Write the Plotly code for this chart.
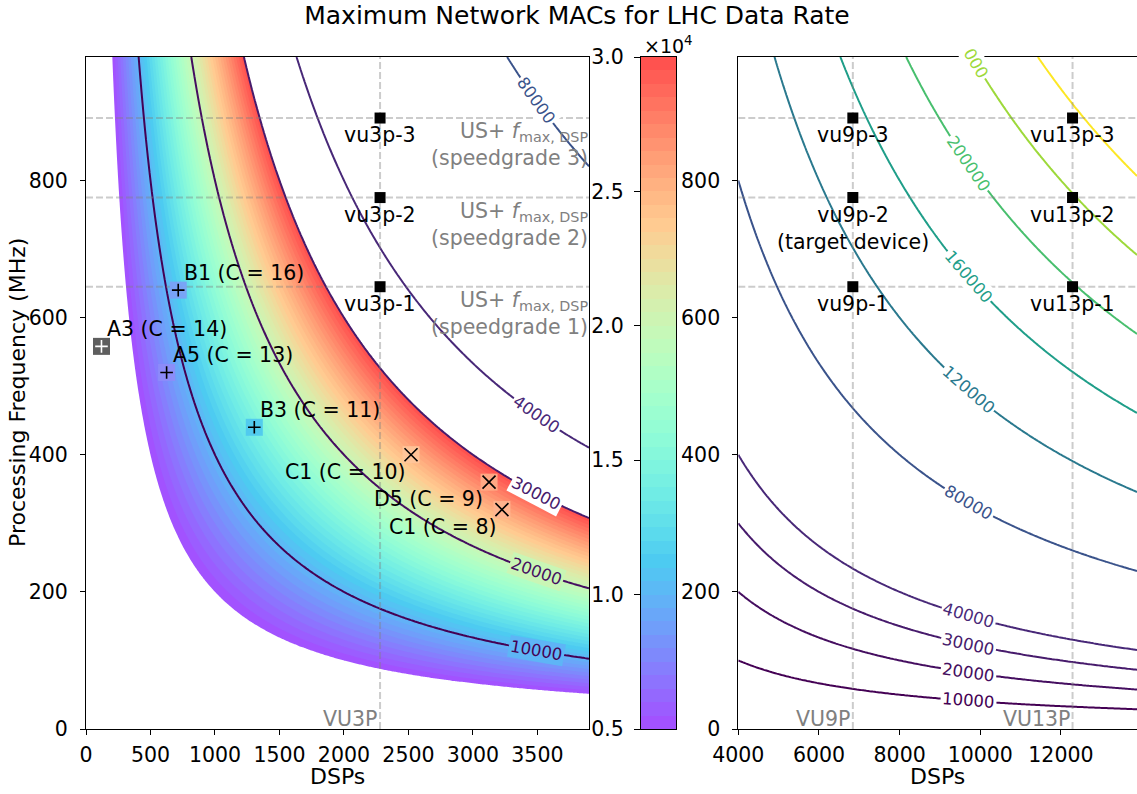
import math
import numpy as np
import plotly.graph_objects as go
from plotly.colors import sample_colorscale

# ---------------- data ----------------
LHC_RATE_MHZ = 40.0  # MACs = DSPs * f / 40 MHz

device_names = ["vu3p", "vu9p", "vu13p"]
device_dsps = [2280, 6840, 12288]
device_family = ["VU3P", "VU9P", "VU13P"]
speedgrades = [1, 2, 3]
speedgrade_fmax = [645, 775, 891]

design_labels = ["A3 (C = 14)", "B1 (C = 16)", "A5 (C = 13)", "B3 (C = 11)",
                 "C1 (C = 10)", "D5 (C = 9)", "C1 (C = 8)"]
design_dsps = [120, 715, 625, 1305, 2520, 3125, 3225]
design_freqs = [558, 640, 520, 440, 400, 360, 320]
design_marker = ["plus", "plus", "plus", "plus", "x", "x", "x"]
design_square_colors = ["#4d4d4d", "#7c9ef6", "#8e8cf8", "#4ec6ef",
                        "#ffc69b", "#ffae88", "#ffb590"]
design_symbol_colors = ["white", "black", "black", "black", "black", "black", "black"]

fill_start, fill_end, fill_step = 5000, 30000, 500
levels_low = [10000, 20000, 30000, 40000]
levels_high = [80000, 120000, 160000, 200000, 240000, 280000]
left_label_levels = [10000, 20000, 30000, 40000, 80000]
right_label_levels = [10000, 20000, 30000, 40000, 80000, 120000, 160000, 200000]

left_xlim = [0, 3900]
right_xlim = [4000, 13886]
ylim = [0, 980]
left_xticks = [0, 500, 1000, 1500, 2000, 2500, 3000, 3500]
right_xticks = [4000, 6000, 8000, 10000, 12000]
yticks = [0, 200, 400, 600, 800]
cbar_ticks = [0.5, 1.0, 1.5, 2.0, 2.5, 3.0]

# ---------------- layout geometry ----------------
W, H = 1137, 794
L_X0, L_X1 = 86, 589
CB_X0, CB_X1 = 641, 676
R_X0 = 738.3
Y_TOP, Y_BOT = 57, 729
FONT = "DejaVu Sans"
TICK_FS = 20.5
LAB_FS = 20.5
CLAB_FS = 16.5
GREY = "#808080"

ydom = [(H - Y_BOT) / H, (H - Y_TOP) / H]


def rainbow(t):
    r = min(1.0, abs(2 * t - 0.5))
    g = math.sin(math.pi * t)
    b = math.cos(math.pi * t / 2)
    return r, g, b


def rainbow_on_white(t, alpha=0.7):
    r, g, b = rainbow(t)
    c = [alpha * v + (1 - alpha) * 1.0 for v in (r, g, b)]
    return "rgb(%d,%d,%d)" % tuple(int(round(255 * v)) for v in c)


vmin_lines, vmax_lines = min(levels_low), max(levels_high)


def viridis(level):
    t = (level - vmin_lines) / (vmax_lines - vmin_lines)
    return sample_colorscale("Viridis", [t])[0]


# grids (MACs surface)
y_grid = np.arange(ylim[0], ylim[1] + 1, 4.0)
xl_grid = np.arange(left_xlim[0], left_xlim[1] + 1, 15.0)
xr_grid = np.linspace(right_xlim[0], right_xlim[1], 250)
zl = (np.outer(y_grid, xl_grid) / LHC_RATE_MHZ).astype(np.float32)
zr = (np.outer(y_grid, xr_grid) / LHC_RATE_MHZ).astype(np.float32)

fig = go.Figure()

# filled MAC region (5000 .. 30000); outside: blank
nc = int((fill_end - fill_start) / fill_step) + 1
nb = nc - 1
fill_cs = [[0.0, "rgba(255,255,255,0)"]]
for k in range(nb):
    fill_cs.append([(k + 1) / nc, rainbow_on_white((k + 0.5) / nb)])
fill_cs.append([1.0, "rgb(255,255,255)"])

fig.add_trace(go.Contour(
    x=xl_grid, y=y_grid, z=zl, xaxis="x", yaxis="y",
    contours=dict(start=fill_start, end=fill_end, size=fill_step,
                  coloring="fill", showlines=False),
    colorscale=fill_cs, showscale=False, line=dict(width=0),
    hoverinfo="skip"))


def line_contour(x, z, levels, xa, ya):
    cs = [[i / (len(levels) - 1), viridis(L)] for i, L in enumerate(levels)]
    return go.Contour(
        x=x, y=y_grid, z=z, xaxis=xa, yaxis=ya,
        contours=dict(start=levels[0], end=levels[-1],
                      size=levels[1] - levels[0], coloring="lines",
                      showlabels=False),
        colorscale=cs, showscale=False, line=dict(width=2, smoothing=0),
        hoverinfo="skip")


fig.add_trace(line_contour(xl_grid, zl, levels_low, "x", "y"))
fig.add_trace(line_contour(xl_grid, zl, levels_high, "x", "y"))
fig.add_trace(line_contour(xr_grid, zr, levels_low, "x2", "y2"))
fig.add_trace(line_contour(xr_grid, zr, levels_high, "x2", "y2"))

# dashed reference lines
dash_style = dict(color="rgba(128,128,128,0.4)", width=2, dash="7px,3px")
panels = [("x", "y", left_xlim, [device_dsps[0]]),
          ("x2", "y2", right_xlim, device_dsps[1:])]
for xa, ya, xlim, dsps in panels:
    for d in dsps:
        fig.add_trace(go.Scatter(x=[d, d], y=ylim, mode="lines", line=dash_style,
                                 xaxis=xa, yaxis=ya, hoverinfo="skip", showlegend=False))
    for f in speedgrade_fmax:
        fig.add_trace(go.Scatter(x=xlim, y=[f, f], mode="lines", line=dash_style,
                                 xaxis=xa, yaxis=ya, hoverinfo="skip", showlegend=False))

# design points: coloured squares + symbols
fig.add_trace(go.Scatter(
    x=design_dsps, y=design_freqs, mode="markers",
    marker=dict(symbol="square", size=17, color=design_square_colors,
                opacity=0.9, line=dict(width=0)),
    xaxis="x", yaxis="y", hoverinfo="skip", showlegend=False))
for sym, size in (("plus", 9), ("x", 13)):
    idx = [i for i, m in enumerate(design_marker) if m == sym]
    fig.add_trace(go.Scatter(
        x=[design_dsps[i] for i in idx], y=[design_freqs[i] for i in idx],
        mode="markers",
        marker=dict(symbol="cross-thin" if sym == "plus" else "x-thin", size=size,
                    line=dict(width=1.6, color=[design_symbol_colors[i] for i in idx])),
        xaxis="x", yaxis="y", hoverinfo="skip", showlegend=False))

# device markers
for j, (name, d) in enumerate(zip(device_names, device_dsps)):
    xa, ya = ("x", "y") if j == 0 else ("x2", "y2")
    fig.add_trace(go.Scatter(
        x=[d] * len(speedgrade_fmax), y=speedgrade_fmax, mode="markers",
        marker=dict(symbol="square", size=11, color="black"),
        xaxis=xa, yaxis=ya, hoverinfo="skip", showlegend=False))

# colour bar drawn as a heatmap
cb_centers = [(fill_start + (k + 0.5) * fill_step) / 1e4 for k in range(nb)]
cb_cs = [[i / 100, rainbow_on_white(i / 100)] for i in range(101)]
fig.add_trace(go.Heatmap(
    x=[0], y=cb_centers, z=[[v] for v in cb_centers],
    colorscale=cb_cs, zmin=cbar_ticks[0], zmax=cbar_ticks[-1], showscale=False,
    xaxis="x3", yaxis="y3", hoverinfo="skip"))

# ---------------- annotations ----------------
ann = []
lab_font = dict(family=FONT, size=LAB_FS, color="black")
for i, (lab, d, f) in enumerate(zip(design_labels, design_dsps, design_freqs)):
    if design_marker[i] == "plus":
        ann.append(dict(x=d, y=f, xref="x", yref="y", text=lab, showarrow=False,
                        xanchor="left", yanchor="bottom", xshift=4, yshift=3, font=lab_font))
    else:
        ann.append(dict(x=d, y=f, xref="x", yref="y", text=lab, showarrow=False,
                        xanchor="right", yanchor="top", xshift=-4, yshift=-3, font=lab_font))

for j, (name, d) in enumerate(zip(device_names, device_dsps)):
    xr, yr = ("x", "y") if j == 0 else ("x2", "y2")
    for sg, f in zip(speedgrades, speedgrade_fmax):
        txt = f"{name}-{sg}"
        if name == "vu9p" and sg == 2:
            txt += "<br>(target device)"
        ann.append(dict(x=d, y=f, xref=xr, yref=yr, text=txt, showarrow=False,
                        xanchor="center", yanchor="top", yshift=-3, font=lab_font))
    ann.append(dict(x=d, y=ylim[0], xref=xr, yref=yr, text=device_family[j],
                    showarrow=False, xanchor="right", yanchor="bottom",
                    xshift=-1, yshift=-4, font=dict(family=FONT, size=LAB_FS, color=GREY)))

for sg, f in zip(speedgrades, speedgrade_fmax):
    ann.append(dict(x=left_xlim[1], y=f, xref="x", yref="y",
                    text=f"US+ <i>f</i><sub>max, DSP</sub><br>(speedgrade {sg})",
                    showarrow=False, xanchor="right", yanchor="top", align="right",
                    xshift=1, yshift=1, font=dict(family=FONT, size=LAB_FS, color=GREY)))

# inline contour labels
ky = (Y_BOT - Y_TOP) / (ylim[1] - ylim[0])
kx_l = (L_X1 - L_X0) / (left_xlim[1] - left_xlim[0])
kx_r = (W - R_X0) / (right_xlim[1] - right_xlim[0])


def contour_label(level, xpos, kx, xr, yr, bg, text=None):
    f = LHC_RATE_MHZ * level / xpos
    ang = math.degrees(math.atan((f / xpos) * ky / kx))
    return dict(x=xpos, y=f, xref=xr, yref=yr, text=text or str(level), showarrow=False,
                textangle=ang, bgcolor=bg, borderpad=1,
                font=dict(family=FONT, size=CLAB_FS, color=viridis(level)))


left_label_bg = {10000: rainbow_on_white((10000 - fill_start) / (fill_end - fill_start)),
                 20000: rainbow_on_white((20000 - fill_start) / (fill_end - fill_start))}
for L in left_label_levels:
    ann.append(contour_label(L, 3490, kx_l, "x", "y", left_label_bg.get(L, "white")))
for L in right_label_levels:
    ann.append(contour_label(L, 9700, kx_r, "x2", "y2", "white"))
ann.append(contour_label(240000, 9890, kx_r, "x2", "y2", "white", text="000"))

ann.append(dict(x=(CB_X0 + 1) / W, y=ydom[1], xref="paper", yref="paper",
                text="×10<sup>4</sup>", showarrow=False, xanchor="left", yanchor="bottom",
                yshift=-2, font=dict(family=FONT, size=19, color="black")))

# axis titles
title_font = dict(family=FONT, size=22, color="black")
ann.append(dict(x=17 / W, y=(ydom[0] + ydom[1]) / 2, xref="paper", yref="paper",
                text="Processing Frequency (MHz)", textangle=-90, showarrow=False,
                xanchor="center", yanchor="middle", font=title_font))
for x0, x1 in ((L_X0, L_X1), (R_X0, W)):
    ann.append(dict(x=(x0 + x1) / 2 / W, y=(H - 776) / H, xref="paper", yref="paper",
                    text="DSPs", showarrow=False, xanchor="center", yanchor="middle",
                    font=title_font))

# ---------------- axes ----------------
axis_common = dict(showgrid=False, zeroline=False, showline=True, linecolor="black",
                   linewidth=1, ticks="outside", ticklen=5, tickwidth=1, tickcolor="black",
                   tickfont=dict(family=FONT, size=TICK_FS, color="black"), automargin=False)

fig.update_layout(
    width=W, height=H,
    margin=dict(l=0, r=0, t=0, b=0),
    paper_bgcolor="white", plot_bgcolor="rgba(0,0,0,0)",
    font=dict(family=FONT, color="black"),
    showlegend=False,
    title=dict(text="Maximum Network MACs for LHC Data Rate", x=577 / W, xanchor="center",
               y=1 - 15 / H, yanchor="middle", font=dict(family=FONT, size=25, color="black")),
    xaxis=dict(domain=[L_X0 / W, L_X1 / W], range=left_xlim, tickvals=left_xticks,
               ticktext=[str(v) for v in left_xticks],
               mirror=True, anchor="y", ticklabelstandoff=2, **axis_common),
    yaxis=dict(domain=ydom, range=ylim, tickvals=yticks, mirror=True, anchor="x",
               ticklabelstandoff=8, **axis_common),
    xaxis2=dict(domain=[R_X0 / W, 1.0], range=right_xlim, tickvals=right_xticks,
                ticktext=[str(v) for v in right_xticks],
                mirror=True, anchor="y2", ticklabelstandoff=2, **axis_common),
    yaxis2=dict(domain=ydom, range=ylim, tickvals=yticks, mirror=False, anchor="x2",
                ticklabelstandoff=8, **axis_common),
    xaxis3=dict(domain=[CB_X0 / W, CB_X1 / W], range=[-0.5, 0.5], showgrid=False,
                zeroline=False, showline=True, mirror=True, linecolor="black",
                showticklabels=False, ticks="", anchor="y3", automargin=False),
    yaxis3=dict(domain=ydom, range=[cbar_ticks[0], cbar_ticks[-1]], tickvals=cbar_ticks,
                ticktext=[f"{v:.1f}" for v in cbar_ticks], side="left", mirror=True,
                anchor="x3", ticklabelstandoff=6, **{**axis_common, "ticklen": 6}),
    annotations=ann,
)

fig.write_html("out.html", config={"displayModeBar": False},
               post_script="document.body.style.margin='0';document.body.style.overflow='hidden';")
